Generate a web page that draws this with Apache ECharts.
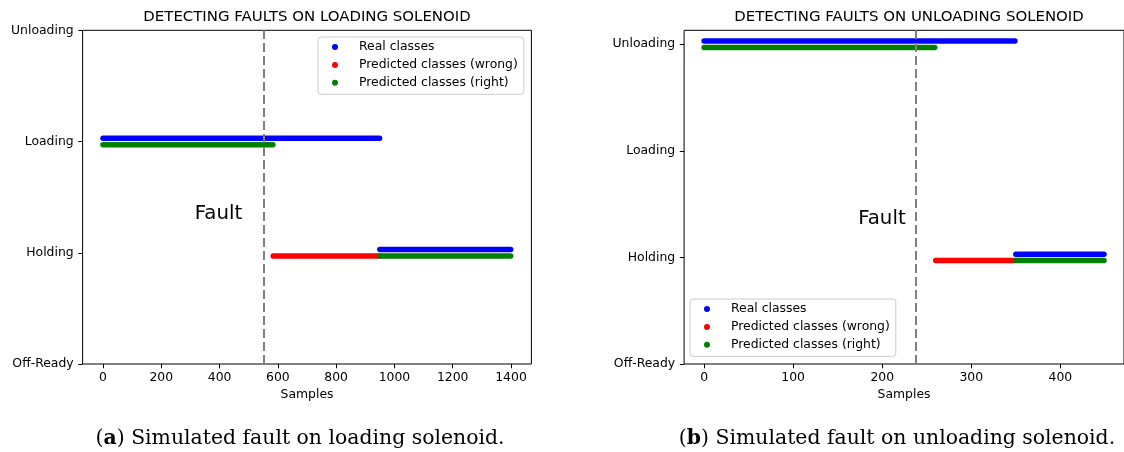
<!DOCTYPE html>
<html>
<head>
<meta charset="utf-8">
<script src="https://cdn.jsdelivr.net/npm/echarts@6/dist/echarts.min.js"></script>
<style>
html,body{margin:0;padding:0;background:#fff;}
#chart{width:1124px;height:452px;}
</style>
</head>
<body>
<div id="chart"></div>
<script>
// ---- data ----
const yClasses = ['Off-Ready', 'Holding', 'Loading', 'Unloading'];
const seriesNames = ['Real classes', 'Predicted classes (wrong)', 'Predicted classes (right)'];
// segments: [first sample, last sample, class index]
const loadingReal = [[0, 949, 2], [950, 1399, 1]];
const loadingWrong = [[584, 949, 1]];
const loadingRight = [[0, 583, 2], [950, 1399, 1]];
const unloadingReal = [[0, 349, 3], [350, 449, 1]];
const unloadingWrong = [[260, 349, 1]];
const unloadingRight = [[0, 259, 3], [350, 449, 1]];
const loadingFault = 550;
const unloadingFault = 238;
const loadingFaultLabel = [315, 1.35];
const unloadingFaultLabel = [173, 1.36];
const loadingTicks = [0, 200, 400, 600, 800, 1000, 1200, 1400];
const unloadingTicks = [0, 100, 200, 300, 400];
const classTicks = [0, 1, 2, 3];
const titles = ['DETECTING FAULTS ON LOADING SOLENOID', 'DETECTING FAULTS ON UNLOADING SOLENOID'];
const captions = ['({b|a}) Simulated fault on loading solenoid.', '({b|b}) Simulated fault on unloading solenoid.'];

// ---- style ----
const colors = ['#0000ff', '#ff0000', '#008000'];
const offsets = [0.03, -0.03, -0.03];
const FONT = 'DejaVu Sans';
const tickFs = 12.4;
const capFs = 20.4;

function segSeries(segs, k, gi) {
  return segs.map(s => ({
    type: 'line',
    name: seriesNames[k],
    xAxisIndex: gi, yAxisIndex: gi,
    data: [[s[0], s[2] + offsets[k]], [s[1], s[2] + offsets[k]]],
    symbol: 'none',
    color: colors[k],
    itemStyle: {color: colors[k]},
    lineStyle: {color: colors[k], width: 5.5, cap: 'round'},
    silent: true,
    animation: false
  }));
}
function faultSeries(x, label, gi) {
  return {
    type: 'line', name: 'Fault', xAxisIndex: gi, yAxisIndex: gi, data: [],
    z: 5, animation: false,
    markLine: {
      silent: true, symbol: ['none', 'none'], label: {show: false},
      lineStyle: {type: [9, 4], color: '#808080', width: 2},
      emphasis: {disabled: true},
      data: [{xAxis: x}]
    },
    markPoint: {
      silent: true,
      data: [{coord: label, symbol: 'circle', symbolSize: 0,
        label: {show: true, formatter: 'Fault', position: [0, 0], align: 'left', verticalAlign: 'middle',
          fontFamily: FONT, fontSize: 19.8, color: '#000'}}]
    }
  };
}
function xAxis(gi, min, max, ticks) {
  return {
    type: 'value', gridIndex: gi, min: min, max: max,
    name: 'Samples', nameLocation: 'middle', nameGap: 24,
    nameTextStyle: {fontFamily: FONT, fontSize: tickFs, color: '#000'},
    axisLine: {show: false, onZero: false},
    axisTick: {show: true, length: 4.3, lineStyle: {color: '#000', width: 1}, customValues: ticks},
    axisLabel: {customValues: ticks, margin: 8, fontFamily: FONT, fontSize: tickFs, color: '#000',
      formatter: v => String(v)},
    splitLine: {show: false}
  };
}
function yAxis(gi, max) {
  return {
    type: 'value', gridIndex: gi, min: 0, max: max,
    axisLine: {show: false, onZero: false},
    axisTick: {show: true, length: 4.3, lineStyle: {color: '#000', width: 1}, customValues: classTicks},
    axisLabel: {customValues: classTicks, margin: 9, fontFamily: FONT, fontSize: tickFs, color: '#000',
      formatter: v => yClasses[Math.round(v)]},
    splitLine: {show: false}
  };
}
function legend(left, top) {
  return {
    orient: 'vertical', left: left, top: top, data: seriesNames,
    icon: 'circle', itemWidth: 6, itemHeight: 6, itemGap: 5.9,
    padding: [4, 6, 5.5, 14],
    borderColor: '#cccccc', borderWidth: 1, borderRadius: 3, backgroundColor: 'rgba(255,255,255,0.8)',
    textStyle: {fontFamily: FONT, fontSize: tickFs, color: '#000', padding: [0, 0, 0, 16]},
    selectedMode: false
  };
}

const series = [].concat(
  segSeries(loadingReal, 0, 0), segSeries(loadingWrong, 1, 0), segSeries(loadingRight, 2, 0),
  [faultSeries(loadingFault, loadingFaultLabel, 0)],
  segSeries(unloadingReal, 0, 1), segSeries(unloadingWrong, 1, 1), segSeries(unloadingRight, 2, 1),
  [faultSeries(unloadingFault, unloadingFaultLabel, 1)]
);

const capStyle = {fontFamily: 'DejaVu Serif', fontSize: capFs, fontWeight: 'normal', color: '#000',
  rich: {b: {fontFamily: 'DejaVu Serif', fontSize: capFs, fontWeight: 'bold', color: '#000'}}};

const chart = echarts.init(document.getElementById('chart'), null, {renderer: 'canvas'});
chart.setOption({
  backgroundColor: '#fff',
  animation: false,
  title: [
    {text: titles[0], left: 307, top: 10, textAlign: 'center', padding: 0,
      textStyle: {fontFamily: FONT, fontSize: 14.95, fontWeight: 'normal', color: '#000'}},
    {text: titles[1], left: 909, top: 10, textAlign: 'center', padding: 0,
      textStyle: {fontFamily: FONT, fontSize: 14.95, fontWeight: 'normal', color: '#000'}},
    {text: captions[0], left: 300, top: 428.5, textAlign: 'center', padding: 0, textStyle: capStyle},
    {text: captions[1], left: 897, top: 428.5, textAlign: 'center', padding: 0, textStyle: capStyle}
  ],
  legend: [legend(318, 37), legend(690, 299)],
  grid: [
    {left: 82.6, top: 30.3, width: 448.8, height: 333.7, show: true, borderColor: '#000', borderWidth: 1, backgroundColor: 'transparent', containLabel: false},
    {left: 684.1, top: 30.3, width: 449.4, height: 333.7, show: true, borderColor: '#000', borderWidth: 1, backgroundColor: 'transparent', containLabel: false}
  ],
  xAxis: [xAxis(0, -70, 1470, loadingTicks), xAxis(1, -22.45, 471.45, unloadingTicks)],
  yAxis: [yAxis(0, 3), yAxis(1, 3.131)],
  tooltip: {show: false},
  series: series
});
</script>
</body>
</html>
